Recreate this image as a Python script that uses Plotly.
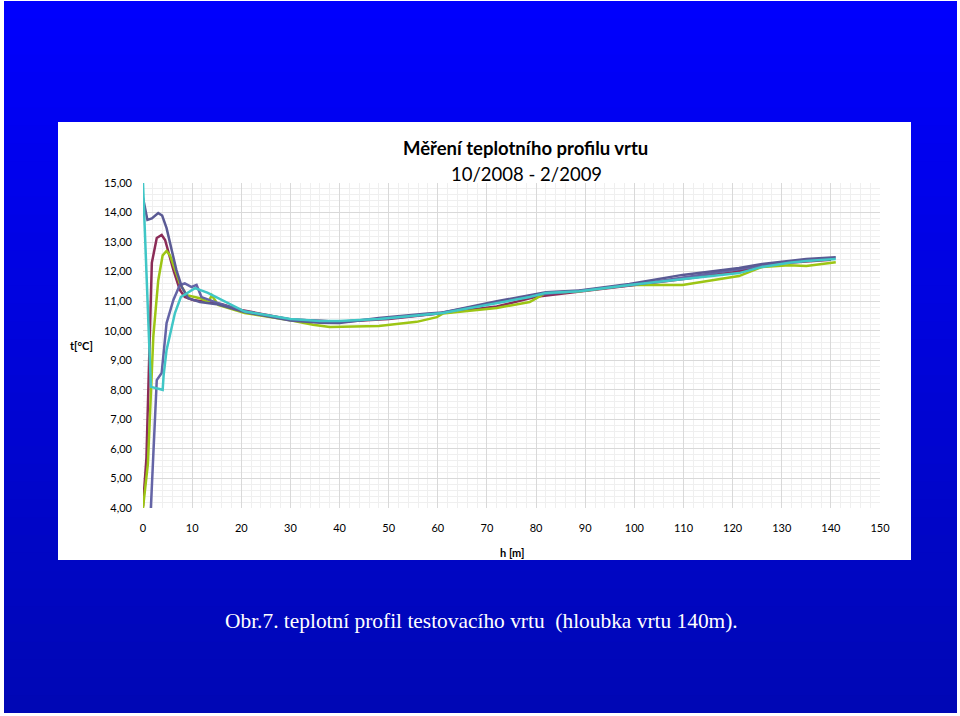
import plotly.graph_objects as go

# hloubka [m] a teplota [°C] pro jednotlivá měření
h_slate = [0, 0.9, 1.8, 3.1, 3.9, 4.8, 6.8, 7.9, 9.2, 11.6, 15, 20.7, 30, 36, 40, 48, 58, 61,
           72, 78.7, 82, 88.8, 99, 109.8, 121.3, 126, 131.5, 135, 141]
t_slate = [14.5, 13.75, 13.8, 13.98, 13.9, 13.47, 12.05, 11.48, 11.1, 10.97, 10.9, 10.63, 10.35, 10.27,
           10.26, 10.43, 10.58, 10.62, 11.0, 11.2, 11.3, 11.36, 11.58, 11.89, 12.12, 12.26, 12.36, 12.43, 12.49]

h_slate2 = [1.6, 2.8, 3.8, 4.8, 6.2, 7.5, 8.5, 9.9, 10.9, 11.9, 15, 20, 30, 40, 50, 60, 70, 80, 90,
            100, 110, 120, 130, 140]
t_slate2 = [4.0, 8.33, 8.57, 10.26, 11.05, 11.55, 11.6, 11.48, 11.55, 11.14, 10.95, 10.68, 10.38, 10.3,
            10.42, 10.58, 10.9, 11.22, 11.37, 11.56, 11.8, 12.05, 12.3, 12.45]

h_maroon = [0, 0.7, 1.8, 2.8, 3.8, 4.5, 6.2, 7.5, 8.5, 10.2, 13, 16, 20, 30, 40, 50, 61, 72, 80,
            90, 100, 110, 120, 130, 140]
t_maroon = [4.05, 5.7, 12.3, 13.14, 13.24, 13.07, 12.05, 11.38, 11.14, 11.04, 10.97, 10.9, 10.7, 10.38,
            10.3, 10.4, 10.6, 10.82, 11.15, 11.36, 11.55, 11.75, 11.98, 12.28, 12.4]

h_lime = [0, 1.0, 2.1, 3.1, 4.0, 4.8, 5.5, 7.5, 8.9, 11.6, 13.3, 14.0, 15.3, 20.7, 30, 34.6, 38, 48,
          55.7, 59.8, 61, 72, 78.7, 82, 88.8, 99, 109.8, 121.3, 126, 131.5, 135, 141]
t_lime = [4.0, 5.5, 9.8, 11.7, 12.55, 12.7, 12.55, 11.6, 11.2, 11.1, 10.97, 11.2, 10.87, 10.6, 10.35,
          10.2, 10.13, 10.16, 10.3, 10.46, 10.58, 10.77, 10.97, 11.28, 11.34, 11.55, 11.55, 11.85, 12.16,
          12.22, 12.19, 12.32]

h_cyan = [0, 1.6, 4.0, 4.2, 4.8, 6.5, 7.7, 10.6, 13.2, 17.3, 20.7, 30, 36, 40, 48, 61, 72, 78.7, 82,
          88.8, 99, 109.8, 121.3, 126, 131.5, 135, 141]
t_cyan = [15.0, 8.1, 8.0, 8.5, 9.35, 10.6, 11.14, 11.44, 11.28, 10.94, 10.65, 10.4, 10.33, 10.33, 10.4,
          10.6, 10.94, 11.14, 11.28, 11.34, 11.55, 11.75, 11.95, 12.16, 12.3, 12.36, 12.43]

x_ticks = list(range(0, 151, 10))
y_ticks = list(range(4, 16))
y_ticktext = [f"{v},00" for v in y_ticks]

series = [
    (h_maroon, t_maroon, "#8B2C57"),
    (h_lime, t_lime, "#9DC514"),
    (h_slate2, t_slate2, "#6464A6"),
    (h_slate, t_slate, "#5A5A94"),
    (h_cyan, t_cyan, "#40C6C6"),
]

# plot area in pixels
L, R, T, B = 143, 880, 183, 508


def xp(px):
    return (px - L) / (R - L)


def yp(py):
    return (B - py) / (B - T)


fig = go.Figure()
for hx, ty, col in series:
    fig.add_trace(go.Scatter(x=hx, y=ty, mode="lines", line=dict(color=col, width=2.5),
                             showlegend=False, hoverinfo="x+y"))

# blue slide background with a soft vertical gradient (bands overlap to avoid seams)
shapes = []
n = 40
for i in range(n):
    y0 = 1 + i * 712 / n
    y1 = min(1 + (i + 1) * 712 / n + 2, 713)
    f = (y0 + y1) / 2 / 716
    g = int(8 * f)
    b = int(255 - 75 * f)
    shapes.append(dict(type="rect", xref="paper", yref="paper", layer="below",
                       x0=xp(4), x1=xp(957), y0=yp(y1), y1=yp(y0),
                       fillcolor=f"rgb(0,{g},{b})", line=dict(width=0)))
# white chart panel
shapes.append(dict(type="rect", xref="paper", yref="paper", layer="below",
                   x0=xp(58), x1=xp(911), y0=yp(560), y1=yp(122),
                   fillcolor="white", line=dict(width=0)))

font = "Lato, Open Sans, sans-serif"
annotations = [
    dict(text="<b>Měření teplotního profilu vrtu</b>", x=xp(525), y=yp(148), font=dict(size=18.5)),
    dict(text="10/2008 - 2/2009", x=xp(526), y=yp(174), font=dict(size=18.5)),
    dict(text="<b>t[°C]</b>", x=xp(81), y=yp(345), font=dict(size=11)),
    dict(text="<b>h [m]</b>", x=xp(512), y=yp(552), font=dict(size=11)),
    dict(text="Obr.7. teplotní profil testovacího vrtu  (hloubka vrtu 140m).", x=xp(481), y=yp(621),
         font=dict(size=21.4, color="white", family="Liberation Serif, Times New Roman, serif")),
]
for a in annotations:
    a.update(xref="paper", yref="paper", showarrow=False, xanchor="center", yanchor="middle")
    a["font"].setdefault("color", "black")
    a["font"].setdefault("family", font)

fig.update_layout(
    width=960, height=716,
    margin=dict(l=L, r=960 - R, t=T, b=716 - B),
    paper_bgcolor="white", plot_bgcolor="white",
    shapes=shapes, annotations=annotations,
    font=dict(family=font, size=11, color="black"),
    xaxis=dict(range=[0, 150], tickvals=x_ticks, showline=False, zeroline=False,
               gridcolor="#D9D9D9", gridwidth=1, ticklabelstandoff=12,
               minor=dict(dtick=2, showgrid=True, gridcolor="#EFEFEF")),
    yaxis=dict(range=[4, 15], tickvals=y_ticks, ticktext=y_ticktext, showline=False, zeroline=False,
               gridcolor="#D9D9D9", gridwidth=1, ticklabelstandoff=10,
               minor=dict(dtick=0.2, showgrid=True, gridcolor="#EFEFEF")),
)

fig.write_html("out.html", config={"displayModeBar": False},
               post_script="document.body.style.margin='0';")
